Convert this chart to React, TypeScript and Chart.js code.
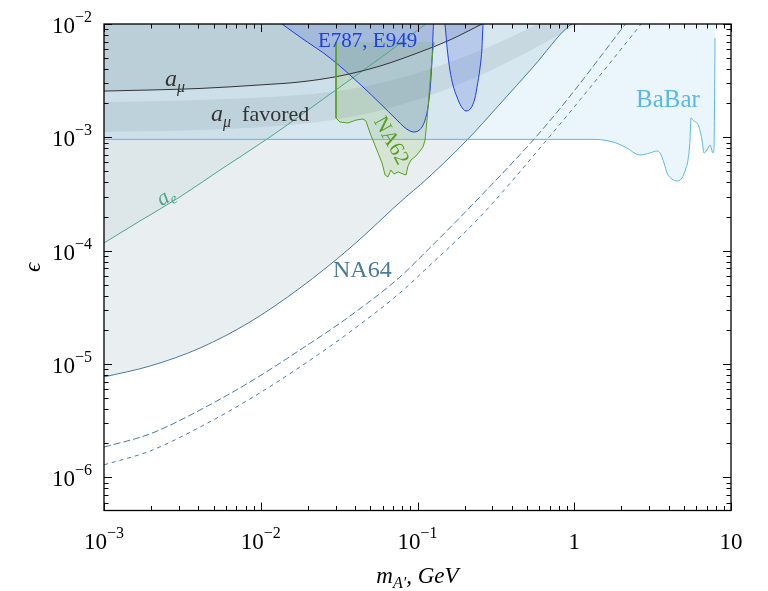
import React, { useEffect, useRef } from "react";
import { Chart, registerables } from "chart.js";
Chart.register(...registerables);

// ---- data (x: m_A' in GeV, y: epsilon) ----
const na64Mass = [1e-3, 1.97e-3, 4.1e-3, 8.54e-3, 1.78e-2, 3.71e-2, 8.57e-2, 0.104, 0.207, 0.336, 0.546, 0.94, 0.968];
const na64Eps = [7.69e-6, 9.61e-6, 1.385e-5, 2.35e-5, 4.69e-5, 1.056e-4, 3.04e-4, 3.8e-4, 9.47e-4, 1.97e-3, 4.17e-3, 9.8e-3, 1e-2];

const projAMass = [1e-3, 1.97e-3, 4.1e-3, 8.54e-3, 1.78e-2, 3.71e-2, 7.73e-2, 0.108, 0.25, 0.562, 0.899, 2.12];
const projAEps = [1.85e-6, 2.42e-6, 3.93e-6, 6.95e-6, 1.33e-5, 2.65e-5, 5.86e-5, 9.17e-5, 2.98e-4, 9.87e-4, 2.14e-3, 1e-2];

const projBMass = [1e-3, 1.97e-3, 4.1e-3, 8.54e-3, 1.78e-2, 3.71e-2, 7.73e-2, 0.108, 0.25, 0.651, 1.088, 2.55, 2.67];
const projBEps = [1.29e-6, 1.71e-6, 2.78e-6, 4.92e-6, 9.42e-6, 1.92e-5, 4.24e-5, 6.49e-5, 1.98e-4, 9.1e-4, 2.14e-3, 9.22e-3, 1e-2];

const aeMass = [1e-3, 1.697e-3, 3.05e-3, 5.5e-3, 1.146e-2, 3.2e-2, 6.68e-2, 0.113];
const aeEps = [1.17e-4, 1.83e-4, 2.98e-4, 5.15e-4, 1.007e-3, 2.78e-3, 5.78e-3, 1e-2];

const amuMass = [1e-3, 4.1e-3, 9.89e-3, 1.78e-2, 3.2e-2, 5.77e-2, 0.1038, 0.161, 0.258];
const amuEps = [2.56e-3, 2.7e-3, 2.9e-3, 3.08e-3, 3.48e-3, 4.26e-3, 5.66e-3, 7.23e-3, 1e-2];

const bandMass = [1e-3, 4.1e-3, 1.78e-2, 3.71e-2, 7.73e-2, 0.161, 0.336, 0.7, 1.46];
const bandUpper = [2.05e-3, 2.14e-3, 2.36e-3, 2.67e-3, 3.34e-3, 4.62e-3, 6.94e-3, 1.13e-2, 1.915e-2];
const bandLower = [1.115e-3, 1.161e-3, 1.31e-3, 1.51e-3, 1.93e-3, 2.73e-3, 4.26e-3, 7.23e-3, 1.276e-2];

const e787Mass = [1.366e-2, 1.78e-2, 2.77e-2, 4.49e-2, 7.4e-2, 8.2e-2, 8.96e-2, 9.5e-2, 0.1007, 0.1069, 0.1117, 0.1167, 0.1202, 0.1228, 0.1246, 0.1255, 0.1265];
const e787Eps = [1e-2, 7.68e-3, 5.01e-3, 2.78e-3, 1.42e-3, 1.234e-3, 1.138e-3, 1.115e-3, 1.138e-3, 1.234e-3, 1.42e-3, 1.85e-3, 2.62e-3, 3.93e-3, 5.9e-3, 8e-3, 1e-2];

const e949Mass = [0.1498, 0.152, 0.1543, 0.161, 0.1684, 0.1786, 0.1895, 0.2039, 0.2195, 0.2327, 0.2397, 0.2504, 0.258, 0.2598, 0.2618];
const e949Eps = [1e-2, 8e-3, 6.27e-3, 3.93e-3, 2.895e-3, 2.27e-3, 1.89e-3, 1.71e-3, 1.815e-3, 2.225e-3, 2.78e-3, 4.09e-3, 6.27e-3, 8e-3, 1e-2];

const na62Mass = [3.02e-2, 3.02e-2, 3.2e-2, 3.6e-2, 4.05e-2, 4.49e-2, 4.69e-2, 4.98e-2, 5.28e-2, 5.6e-2, 5.94e-2, 6.21e-2, 6.48e-2, 6.77e-2, 7.08e-2, 7.51e-2, 8.08e-2, 8.45e-2, 8.7e-2, 9.09e-2, 9.78e-2, 0.1038, 0.1084, 0.1117, 0.115, 0.1184, 0.1219, 0.1255, 0.1274];
const na62Eps = [6.94e-3, 1.48e-3, 1.366e-3, 1.338e-3, 1.42e-3, 1.452e-3, 1.394e-3, 1.092e-3, 8.92e-4, 7.28e-4, 5.94e-4, 4.65e-4, 4.47e-4, 5.15e-4, 4.75e-4, 4.95e-4, 4.75e-4, 4.65e-4, 5.59e-4, 6.31e-4, 6.85e-4, 7.58e-4, 8.22e-4, 9.47e-4, 1.42e-3, 2.36e-3, 3.93e-3, 5.9e-3, 6.94e-3];

const babarMass = [1e-3, 0.811, 1.317, 1.767, 2.108, 2.628, 3.043, 3.372, 3.525, 3.738, 3.906, 4.203, 4.524, 4.868, 5.163, 5.317, 5.475, 5.557, 5.808, 6.07, 6.25, 6.53, 6.73, 7.03, 7.35, 7.68, 7.79, 7.91];
const babarEps = [9.6e-4, 9.6e-4, 9.6e-4, 9.1e-4, 8.22e-4, 6.99e-4, 7.28e-4, 7.58e-4, 7.28e-4, 5.94e-4, 4.85e-4, 4.29e-4, 4.12e-4, 4.38e-4, 5.36e-4, 6.31e-4, 9.47e-4, 1.48e-3, 1.394e-3, 1.338e-3, 1.234e-3, 9.47e-4, 7.28e-4, 7.73e-4, 8.56e-4, 7.28e-4, 8.05e-4, 7.52e-3];

// annotation labels (anchor in data coordinates)
const annText = ["a|μ", "a|μ| favored", "a|e", "E787, E949", "NA62", "NA64", "BaBar"];
const annMass = [2.45e-3, 4.82e-3, 2.485e-3, 2.32e-2, 6.88e-2, 2.89e-2, 2.48];
const annEps = [2.84e-3, 1.394e-3, 2.98e-4, 6.27e-3, 9.47e-4, 5.86e-5, 1.85e-3];

// axes
const xMin = 1e-3, xMax = 10, yMin = 5.1e-7, yMax = 1e-2;
const xTickVals = [1e-3, 1e-2, 1e-1, 1, 10];
const xTickBase = ["10", "10", "10", "1", "10"];
const xTickExp = ["−3", "−2", "−1", "", ""];
const yTickVals = [1e-2, 1e-3, 1e-4, 1e-5, 1e-6];
const yTickBase = ["10", "10", "10", "10", "10"];
const yTickExp = ["−2", "−3", "−4", "−5", "−6"];

const SERIF = '"Liberation Serif", "DejaVu Serif", serif';
const pts = (xs: number[], ys: number[]) => xs.map((x, i) => ({ x, y: ys[i] }));

type Part = { t: string; f: string; dy?: number };
function drawParts(ctx: CanvasRenderingContext2D, x: number, y: number, parts: Part[], align = "left") {
  let w = 0;
  parts.forEach((p) => { ctx.font = p.f; w += ctx.measureText(p.t).width; });
  let cx = align === "left" ? x : align === "center" ? x - w / 2 : x - w;
  ctx.textAlign = "left";
  ctx.textBaseline = "alphabetic";
  parts.forEach((p) => {
    ctx.font = p.f;
    ctx.fillText(p.t, cx, y + (p.dy || 0));
    cx += ctx.measureText(p.t).width;
  });
}

const decorPlugin = {
  id: "decor",
  afterDatasetsDraw(chart: any) {
    const { ctx, scales } = chart;
    const X = (v: number) => scales.x.getPixelForValue(v);
    const Y = (v: number) => scales.y.getPixelForValue(v);
    ctx.save();
    // a_mu
    ctx.fillStyle = "#333333";
    drawParts(ctx, X(annMass[0]), Y(annEps[0]), [
      { t: "a", f: `italic 24px ${SERIF}` },
      { t: "μ", f: `italic 16px ${SERIF}`, dy: 6 },
    ]);
    drawParts(ctx, X(annMass[1]), Y(annEps[1]), [
      { t: "a", f: `italic 24px ${SERIF}` },
      { t: "μ", f: `italic 16px ${SERIF}`, dy: 6 },
      { t: "  favored", f: `22px ${SERIF}` },
    ]);
    // a_e
    ctx.save();
    ctx.fillStyle = "#4fa58a";
    ctx.translate(X(annMass[2]), Y(annEps[2]));
    ctx.rotate((-31 * Math.PI) / 180);
    drawParts(ctx, 0, 6, [
      { t: "a", f: `italic 22px ${SERIF}` },
      { t: "e", f: `italic 15px ${SERIF}`, dy: 4 },
    ], "center");
    ctx.restore();
    // E787
    ctx.fillStyle = "#1f3ee6";
    drawParts(ctx, X(annMass[3]), Y(annEps[3]), [{ t: annText[3], f: `21px ${SERIF}` }]);
    // NA62 rotated
    ctx.save();
    ctx.fillStyle = "#5a9e22";
    ctx.translate(X(annMass[4]), Y(annEps[4]));
    ctx.rotate((61 * Math.PI) / 180);
    drawParts(ctx, 0, 7, [{ t: annText[4], f: `21px ${SERIF}` }], "center");
    ctx.restore();
    // NA64
    ctx.fillStyle = "#4a7a9c";
    drawParts(ctx, X(annMass[5]), Y(annEps[5]), [{ t: annText[5], f: `24px ${SERIF}` }]);
    // BaBar
    ctx.fillStyle = "#5cb6e6";
    drawParts(ctx, X(annMass[6]), Y(annEps[6]), [{ t: annText[6], f: `25px ${SERIF}` }]);
    ctx.restore();
  },
  afterDraw(chart: any) {
    const { ctx, chartArea: a, scales } = chart;
    const X = (v: number) => scales.x.getPixelForValue(v);
    const Y = (v: number) => scales.y.getPixelForValue(v);
    ctx.save();
    ctx.strokeStyle = "#000";
    ctx.lineWidth = 1.3;
    ctx.strokeRect(a.left, a.top, a.right - a.left, a.bottom - a.top);
    ctx.lineWidth = 1;
    ctx.beginPath();
    for (let d = -3; d <= 1; d++) {
      for (let m = 1; m <= 9; m++) {
        const v = m * Math.pow(10, d);
        if (v < xMin * 0.999 || v > xMax * 1.001) continue;
        const px = Math.round(X(v)) + 0.5;
        const len = m === 1 ? 8 : 4.5;
        ctx.moveTo(px, a.bottom); ctx.lineTo(px, a.bottom - len);
        ctx.moveTo(px, a.top); ctx.lineTo(px, a.top + len);
      }
    }
    for (let d = -7; d <= -2; d++) {
      for (let m = 1; m <= 9; m++) {
        const v = m * Math.pow(10, d);
        if (v < yMin * 0.999 || v > yMax * 1.001) continue;
        const py = Math.round(Y(v)) + 0.5;
        const len = m === 1 ? 8 : 4.5;
        ctx.moveTo(a.left, py); ctx.lineTo(a.left + len, py);
        ctx.moveTo(a.right, py); ctx.lineTo(a.right - len, py);
      }
    }
    ctx.stroke();

    ctx.fillStyle = "#000";
    xTickVals.forEach((v, i) => {
      const parts: Part[] = [{ t: xTickBase[i], f: `23px ${SERIF}` }];
      if (xTickExp[i]) parts.push({ t: xTickExp[i], f: `16px ${SERIF}`, dy: -11 });
      drawParts(ctx, X(v), a.bottom + 38, parts, "center");
    });
    yTickVals.forEach((v, i) => {
      const parts: Part[] = [{ t: yTickBase[i], f: `23px ${SERIF}` }];
      if (yTickExp[i]) parts.push({ t: yTickExp[i], f: `16px ${SERIF}`, dy: -11 });
      drawParts(ctx, a.left - 12, Y(v) + 9, parts, "right");
    });
    // axis titles
    drawParts(ctx, (a.left + a.right) / 2, 583, [
      { t: "m", f: `italic 23px ${SERIF}` },
      { t: "A′", f: `italic 16px ${SERIF}`, dy: 5 },
      { t: ", GeV", f: `italic 23px ${SERIF}` },
    ], "center");
    ctx.save();
    ctx.translate(40, (a.top + a.bottom) / 2);
    ctx.rotate(-Math.PI / 2);
    drawParts(ctx, 0, 0, [{ t: "ϵ", f: `italic 23px ${SERIF}` }], "center");
    ctx.restore();
    ctx.restore();
  },
};

export default function App() {
  const ref = useRef<HTMLCanvasElement>(null);
  useEffect(() => {
    document.body.style.margin = "0";
    document.body.style.overflow = "hidden";
    const canvas = ref.current!;
    const line = (data: any, extra: any) => ({
      data,
      showLine: true,
      pointRadius: 0,
      borderWidth: 1,
      fill: false,
      ...extra,
    });
    const chart = new Chart(canvas, {
      type: "scatter",
      data: {
        datasets: [
          line(pts(projAMass, projAEps), { borderColor: "#4d7d9c", borderDash: [7, 3], cubicInterpolationMode: "monotone" }),
          line(pts(projBMass, projBEps), { borderColor: "#4d7d9c", borderDash: [4, 4], cubicInterpolationMode: "monotone" }),
          line(pts(na62Mass, na62Eps), { borderColor: "#5a9e22", fill: "shape", backgroundColor: "rgba(120,170,60,0.17)", tension: 0 }),
          line(pts(e949Mass, e949Eps), { borderColor: "#1f3ee6", fill: "end", backgroundColor: "rgba(60,90,225,0.2)", cubicInterpolationMode: "monotone" }),
          line(pts(e787Mass, e787Eps), { borderColor: "#1f3ee6", fill: "end", backgroundColor: "rgba(60,90,225,0.18)", cubicInterpolationMode: "monotone" }),
          line(pts(bandMass, bandUpper), { borderWidth: 0, borderColor: "rgba(0,0,0,0)", cubicInterpolationMode: "monotone" }),
          line(pts(bandMass, bandLower), { borderWidth: 0, borderColor: "rgba(0,0,0,0)", fill: "-1", backgroundColor: "rgba(80,110,120,0.12)", cubicInterpolationMode: "monotone" }),
          line(pts(amuMass, amuEps), { borderColor: "#333333", fill: "end", backgroundColor: "rgba(80,110,120,0.15)", cubicInterpolationMode: "monotone" }),
          line(pts(babarMass, babarEps), { borderColor: "#5cb6e6", fill: "end", backgroundColor: "rgba(100,180,230,0.13)", cubicInterpolationMode: "monotone" }),
          line(pts(aeMass, aeEps), { borderColor: "#4fa58a", fill: "end", backgroundColor: "rgba(100,150,150,0.09)", cubicInterpolationMode: "monotone" }),
          line(pts(na64Mass, na64Eps), { borderColor: "#4a7a9c", fill: "end", backgroundColor: "rgba(70,120,140,0.12)", cubicInterpolationMode: "monotone" }),
        ],
      },
      options: {
        responsive: false,
        animation: false,
        devicePixelRatio: 1,
        layout: { padding: { left: 104, top: 24, right: 37, bottom: 80.5 } },
        plugins: {
          legend: { display: false },
          tooltip: { enabled: false },
          filler: { drawTime: "beforeDatasetsDraw" },
        } as any,
        scales: {
          x: { type: "logarithmic", min: xMin, max: xMax, display: false, bounds: "data" } as any,
          y: { type: "logarithmic", min: yMin, max: yMax, display: false, bounds: "data" } as any,
        },
      },
      plugins: [decorPlugin],
    });
    return () => chart.destroy();
  }, []);
  return <canvas ref={ref} width={768} height={591} style={{ display: "block" }} />;
}
